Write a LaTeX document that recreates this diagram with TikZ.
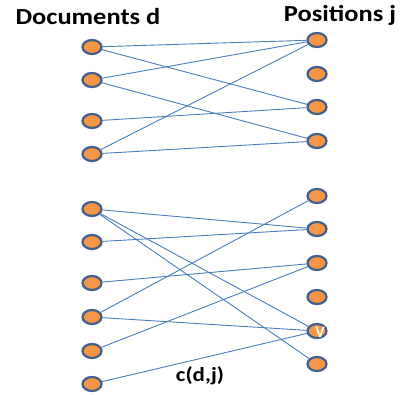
\documentclass[tikz,border=0pt]{standalone}
\usepackage{fontspec}
\setmainfont{Carlito}
\usetikzlibrary{shapes.geometric}
\definecolor{dotfill}{HTML}{F79646}
\definecolor{dotline}{HTML}{3F5F8F}
\definecolor{linkcol}{HTML}{4A7EBB}
\tikzset{
  dot/.style={ellipse,draw=dotline,fill=dotfill,line width=2.2pt,minimum width=19pt,minimum height=14pt,inner sep=0pt},
  link/.style={color=linkcol,line width=0.9pt},
  title/.style={font=\bfseries\fontsize{23}{23}\selectfont,xscale=1.15}
}
\begin{document}
\begin{tikzpicture}[x=1pt,y=-1pt]
\useasboundingbox (0,0) rectangle (401,394);
% left column
\foreach \i/\y in {1/47,2/80,3/121,4/154,5/209,6/242,7/283,8/317,9/351,10/384}{
\node[dot] (D\i) at (92,\y) {};
}
% right column
\foreach \i/\y in {1/40,2/74,3/107,4/141,5/196,6/229,7/263,8/297,9/331,10/364}{
\node[dot] (P\i) at (317,\y) {};
}
\node[text=white,font=\bfseries\fontsize{16}{16}\selectfont] at (320,332) {V};
\foreach \a/\b in {1/1,1/3,2/1,2/4,3/3,4/1,4/4,5/6,5/9,5/10,6/6,7/7,8/5,8/9,9/7,10/9}{
\draw[link] (D\a)--(P\b);
}
\node[title] at (88,17) {Documents d};
\node[title] at (340,15) {Positions j};
\node[font=\bfseries\fontsize{20}{20}\selectfont,xscale=1.15] at (200,376) {c(d,j)};
\end{tikzpicture}
\end{document}
